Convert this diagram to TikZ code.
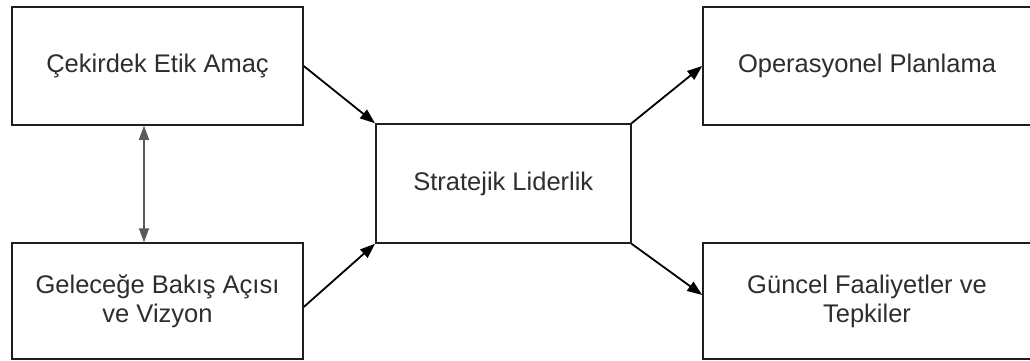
\documentclass[tikz,border=0pt]{standalone}
\usepackage{fontspec}
\setmainfont{Liberation Sans}
\usetikzlibrary{arrows.meta}
\definecolor{boxline}{HTML}{1E1E1E}
\definecolor{txt}{HTML}{2E2E2E}
\definecolor{dbl}{HTML}{5A5A5A}
\tikzset{
  box/.style={draw=boxline, line width=1.5pt, inner sep=0pt, align=center,
    text=txt, font=\fontsize{25.5}{29}\selectfont},
  arr/.style={draw=black, line width=1.8pt, -{Triangle[length=15pt,width=11pt]}},
  dblarr/.style={draw=dbl, line width=1.6pt, {Triangle[length=14pt,width=10pt]}-{Triangle[length=14pt,width=10pt]}}
}
\begin{document}
\begin{tikzpicture}[x=1pt,y=-1pt]
\useasboundingbox (0,0) rectangle (1030,360);
\fill[white] (0,0) rectangle (1030,360);
\node[box, minimum width=291pt, minimum height=118pt] (A) at (157.5,66) {Çekirdek Etik Amaç};
\node[box, minimum width=291pt, minimum height=116pt] (B) at (157.5,301) {Geleceğe Bakış Açısı\\ve Vizyon};
\node[box, minimum width=255pt, minimum height=119pt] (C) at (503.3,183.5) {Stratejik Liderlik};
\node[box, minimum width=328pt, minimum height=118pt] (D) at (867,66) {Operasyonel Planlama};
\node[box, minimum width=328pt, minimum height=116pt] (E) at (867,301) {Güncel Faaliyetler ve\\Tepkiler};
\draw[dblarr] ([xshift=-13.5pt]A.south) -- ([xshift=-13.5pt]B.north);
\draw[arr] (A.east) -- (C.north west);
\draw[arr] ([yshift=-6pt]B.east) -- (C.south west);
\draw[arr] (C.north east) -- (D.west);
\draw[arr] (C.south east) -- ([yshift=6pt]E.west);
\end{tikzpicture}
\end{document}
